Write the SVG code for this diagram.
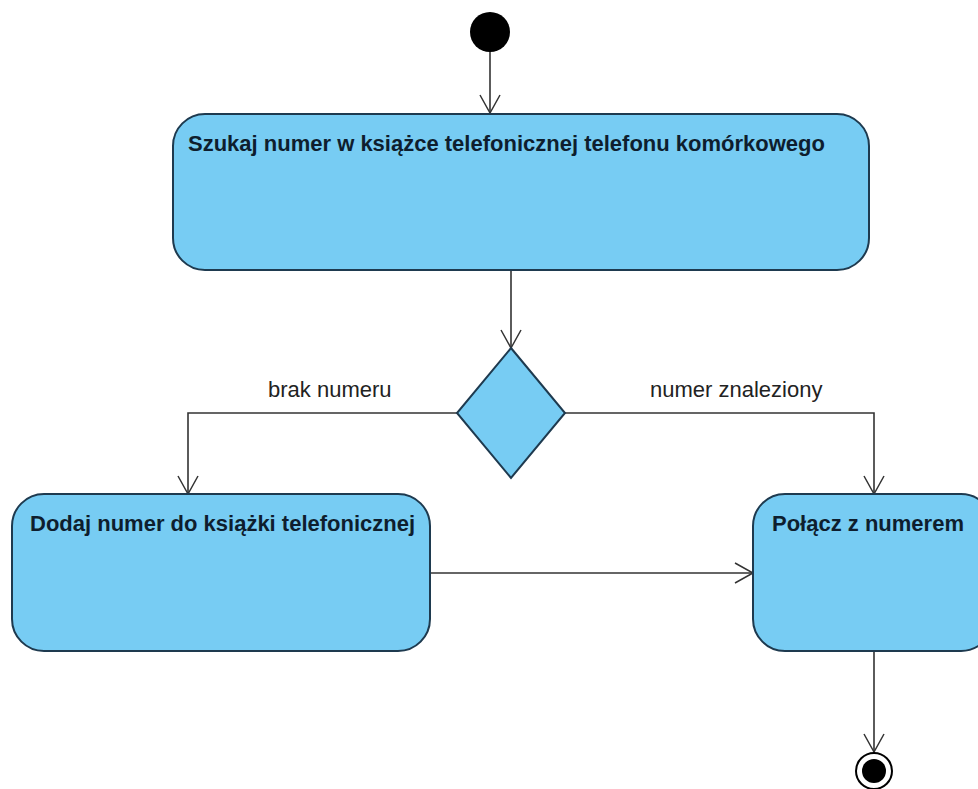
<svg xmlns="http://www.w3.org/2000/svg" width="978" height="789" viewBox="0 0 978 789">
<defs>
<marker id="open" markerWidth="24" markerHeight="24" refX="19" refY="12" orient="auto" markerUnits="userSpaceOnUse">
<path d="M1,2 L19,12 L1,22" fill="none" stroke="#333" stroke-width="1.5"/>
</marker>
<style>
.act{fill:#77CCF3;stroke:#1E3A4F;stroke-width:2}
.t{font-family:"Liberation Sans",Arial,sans-serif;font-weight:bold;font-size:22px;fill:#0E1E2E}
.lbl{font-family:"Liberation Sans",Arial,sans-serif;font-size:22px;fill:#222}
.c{fill:none;stroke:#333;stroke-width:1.6}
</style>
</defs>
<rect width="978" height="789" fill="#fff"/>
<g id="connectors">
<line class="c" x1="490" y1="50" x2="490" y2="113" marker-end="url(#open)"/>
<line class="c" x1="511" y1="270" x2="511" y2="348" marker-end="url(#open)"/>
<polyline class="c" points="457,413 188,413 188,494" marker-end="url(#open)"/>
<polyline class="c" points="565,413 874,413 874,494" marker-end="url(#open)"/>
<line class="c" x1="430" y1="573" x2="753" y2="573" marker-end="url(#open)"/>
<line class="c" x1="874" y1="651" x2="874" y2="752" marker-end="url(#open)"/>
<text class="lbl" x="268" y="397">brak numeru</text>
<text class="lbl" x="650" y="397">numer znaleziony</text>
</g>
<g id="start"><circle cx="490" cy="32" r="20" fill="#000"/></g>
<g id="szukaj">
<rect class="act" x="173" y="114" width="696" height="156" rx="32"/>
<text class="t" x="188" y="151">Szukaj numer w książce telefonicznej telefonu komórkowego</text>
</g>
<g id="decision"><polygon class="act" points="511,348 565,413 511,478 457,413"/></g>
<g id="dodaj">
<rect class="act" x="12" y="494" width="418" height="157" rx="32"/>
<text class="t" x="30" y="531">Dodaj numer do książki telefonicznej</text>
</g>
<g id="polacz">
<rect class="act" x="753" y="494" width="240" height="157" rx="32"/>
<text class="t" x="772" y="531">Połącz z numerem</text>
</g>
<g id="end">
<circle cx="874" cy="771" r="18" fill="#fff" stroke="#000" stroke-width="2"/>
<circle cx="874" cy="771" r="12" fill="#000"/>
</g>
</svg>
